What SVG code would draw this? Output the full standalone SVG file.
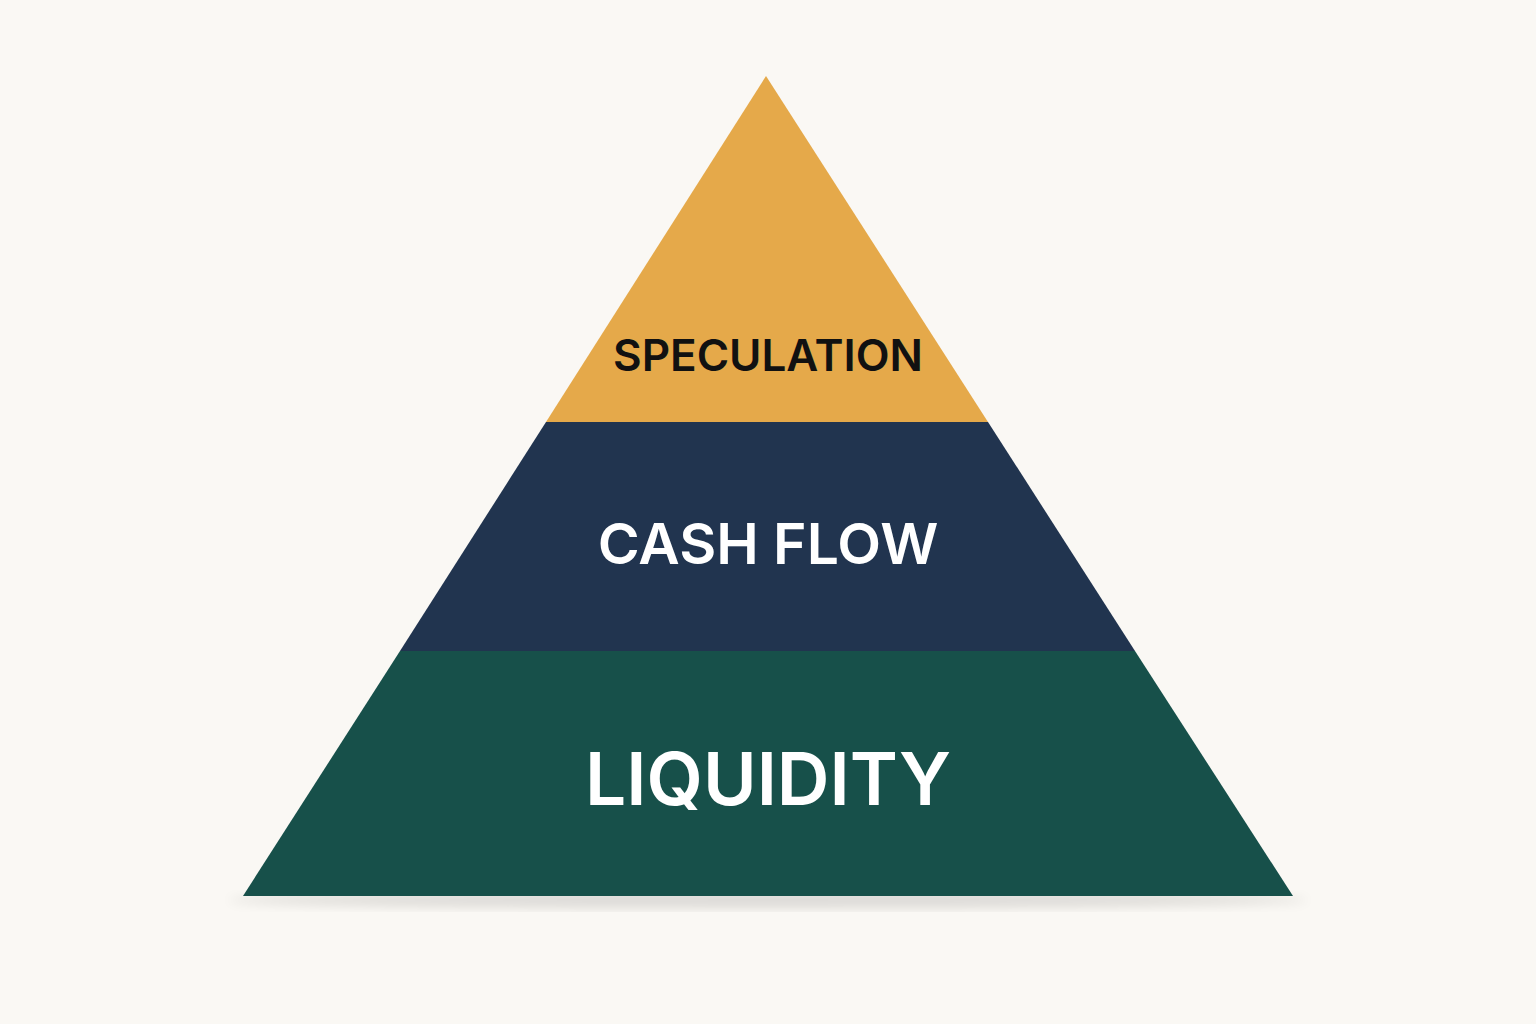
<svg xmlns="http://www.w3.org/2000/svg" width="1536" height="1024" viewBox="0 0 1536 1024">
<style>
.l{font-family:"Inter","Liberation Sans",sans-serif;font-weight:600;text-anchor:middle;dominant-baseline:central}
</style>
<defs>
<filter id="sh" x="-10%" y="-10%" width="120%" height="130%"><feGaussianBlur stdDeviation="6"/></filter>
</defs>
<rect width="1536" height="1024" fill="#FAF8F4"/>
<ellipse cx="768" cy="900" rx="540" ry="8" fill="#000" opacity="0.12" filter="url(#sh)"/>
<g id="speculation">
<polygon points="766,76 546,422 988,422" fill="#E5A94A"/>
<text class="l" x="768" y="355" font-size="44" fill="#111">SPECULATION</text>
</g>
<g id="cashflow">
<polygon points="546,422 988,422 1135,651 400,651" fill="#21344F"/>
<text class="l" x="768" y="543" font-size="57" fill="#fff">CASH FLOW</text>
</g>
<g id="liquidity">
<polygon points="400,651 1135,651 1293,896 243,896" fill="#17504A"/>
<text class="l" x="768" y="778" font-size="73" fill="#fff">LIQUIDITY</text>
</g>
<g id="connectors"></g>
</svg>
